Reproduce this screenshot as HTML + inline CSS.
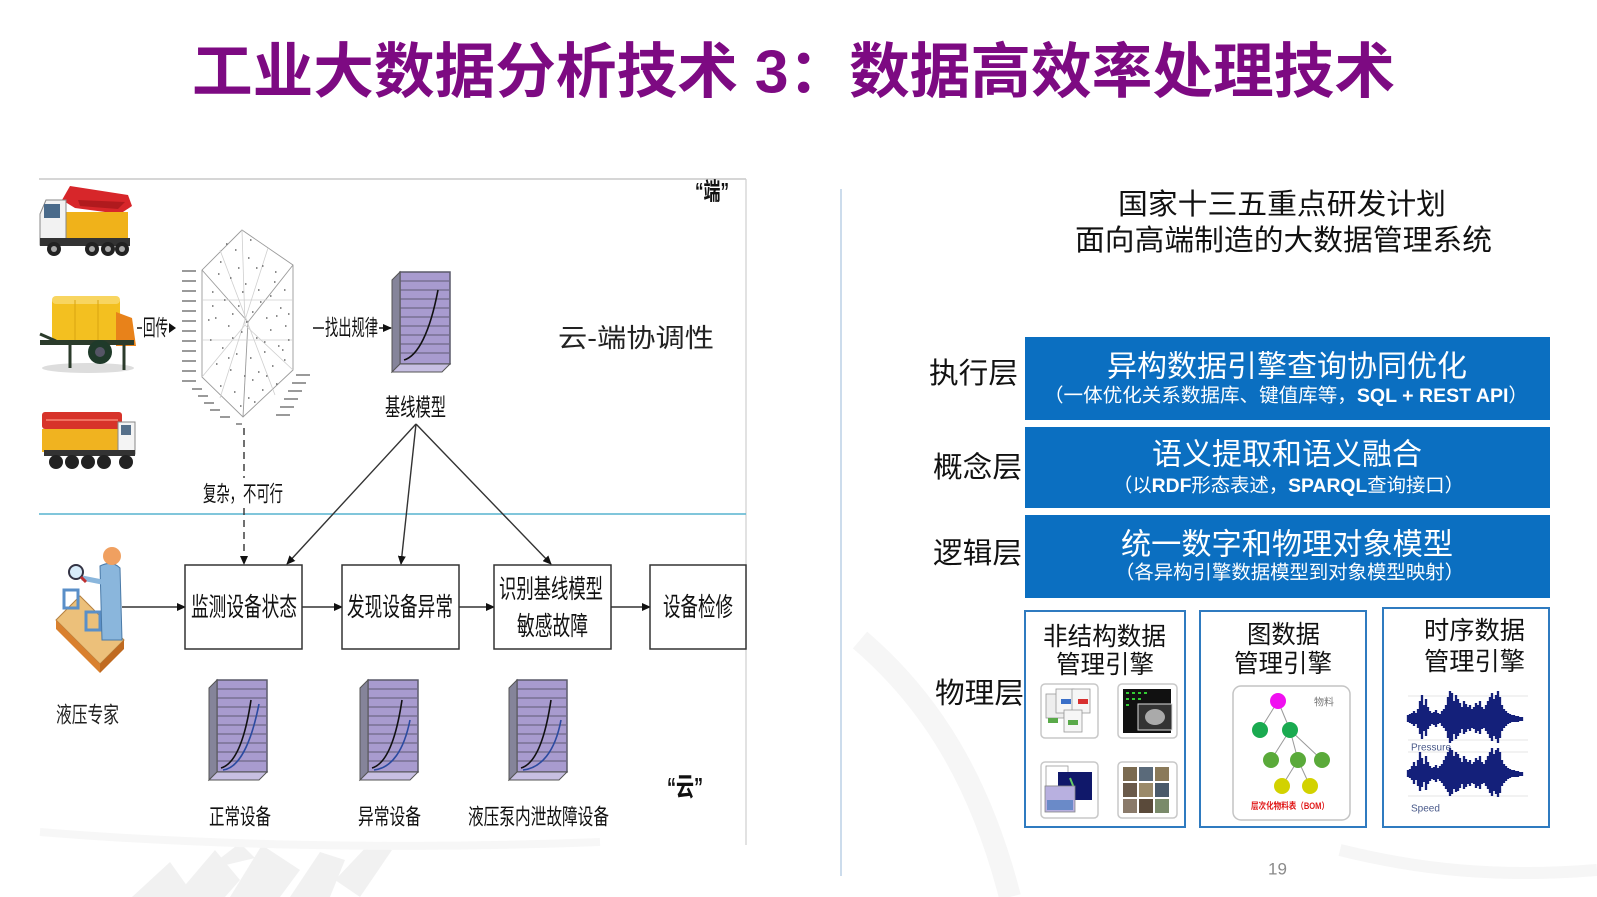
<!DOCTYPE html>
<html><head><meta charset="utf-8">
<style>
html,body{margin:0;padding:0;background:#fff;}
svg{display:block;}
text{font-family:"Liberation Sans","Noto Sans CJK SC",sans-serif;}
</style></head><body>
<svg width="1597" height="897" viewBox="0 0 1597 897" xmlns="http://www.w3.org/2000/svg">
<defs>
<marker id="ah" markerWidth="9" markerHeight="8" refX="8" refY="4" orient="auto" markerUnits="userSpaceOnUse"><path d="M0,0 L9,4 L0,8 z" fill="#111"/></marker>
</defs>

<!-- faint background -->
<g fill="#e8e8e8" opacity="0.6">
<polygon points="132,897 170,862 195,897"/>
<polygon points="175,897 215,850 240,880 225,897"/>
<polygon points="230,897 262,845 300,870 280,897"/>
<polygon points="290,897 320,852 345,860 330,897"/>
<polygon points="335,880 370,843 392,850 360,897"/>
<polygon points="205,870 240,843 255,858"/>
</g>
<path d="M860,640 C930,700 980,780 1010,897" stroke="#f6f6f6" stroke-width="22" fill="none"/>
<path d="M1340,850 C1420,870 1500,878 1597,870" stroke="#f6f6f6" stroke-width="12" fill="none"/>
<path d="M40,832 C200,845 400,850 600,842" stroke="#f7f7f7" stroke-width="8" fill="none"/>

<!-- title -->
<text x="192" y="72" font-size="60" font-weight="bold" fill="#7D0A82" dominant-baseline="central" textLength="1203" lengthAdjust="spacingAndGlyphs">工业大数据分析技术 3：数据高效率处理技术</text>

<!-- left panel frame -->
<line x1="39" y1="179" x2="746" y2="179" stroke="#bdbdbd" stroke-width="1.3"/>
<line x1="746" y1="179" x2="746" y2="845" stroke="#cfcfcf" stroke-width="1.2"/>
<line x1="39" y1="514" x2="746" y2="514" stroke="#56b4cf" stroke-width="1.6"/>

<text x="695" y="192" font-size="24" font-weight="bold" fill="#111" dominant-baseline="central" textLength="34" lengthAdjust="spacingAndGlyphs">“端”</text>
<text x="558" y="338" font-size="26" fill="#222" dominant-baseline="central" textLength="156" lengthAdjust="spacingAndGlyphs">云-端协调性</text>

<!-- truck 1 -->
<g>
<polygon points="62,200 70,186 128,195 132,206 120,214 75,208" fill="#d7262a"/>
<polygon points="78,200 125,202 118,209 80,206" fill="#b01a1e"/>
<rect x="64" y="212" width="64" height="30" fill="#f0b21a"/>
<polygon points="40,214 46,200 66,200 66,245 40,245" fill="#f2f2f2" stroke="#888" stroke-width="1"/>
<rect x="44" y="204" width="16" height="14" fill="#4a6a8a"/>
<rect x="40" y="238" width="90" height="8" fill="#333"/>
<circle cx="54" cy="249" r="7" fill="#222"/><circle cx="54" cy="249" r="3" fill="#aaa"/>
<circle cx="92" cy="249" r="7" fill="#222"/><circle cx="92" cy="249" r="3" fill="#aaa"/>
<circle cx="108" cy="249" r="7" fill="#222"/><circle cx="108" cy="249" r="3" fill="#aaa"/>
<circle cx="122" cy="249" r="7" fill="#222"/><circle cx="122" cy="249" r="3" fill="#aaa"/>
</g>
<!-- truck 2 -->
<g>
<ellipse cx="88" cy="368" rx="46" ry="5" fill="#ddd"/>
<rect x="52" y="296" width="68" height="46" rx="6" fill="#f3c020"/>
<rect x="52" y="296" width="68" height="8" rx="4" fill="#f8d560"/>
<line x1="75" y1="300" x2="75" y2="340" stroke="#d9a410" stroke-width="1"/>
<line x1="98" y1="300" x2="98" y2="340" stroke="#d9a410" stroke-width="1"/>
<polygon points="116,312 132,318 136,346 116,346" fill="#e8821a"/>
<rect x="40" y="340" width="94" height="5" fill="#2b3b2b"/>
<line x1="40" y1="334" x2="56" y2="341" stroke="#2b3b2b" stroke-width="3"/>
<circle cx="100" cy="352" r="12" fill="#1f3a2a"/><circle cx="100" cy="352" r="5" fill="#556"/>
<line x1="70" y1="345" x2="70" y2="368" stroke="#2b3b2b" stroke-width="3"/>
<line x1="124" y1="345" x2="124" y2="370" stroke="#2b3b2b" stroke-width="3"/>
</g>
<!-- truck 3 -->
<g>
<rect x="42" y="412" width="80" height="17" rx="3" fill="#d7332a"/>
<line x1="46" y1="420" x2="118" y2="420" stroke="#f07060" stroke-width="2"/>
<rect x="42" y="429" width="80" height="23" fill="#f0b320"/>
<rect x="118" y="422" width="17" height="32" fill="#f4f4f4" stroke="#888" stroke-width="1"/>
<rect x="121" y="425" width="10" height="10" fill="#56708a"/>
<rect x="44" y="450" width="91" height="6" fill="#333"/>
<circle cx="56" cy="462" r="7" fill="#222"/><circle cx="72" cy="462" r="7" fill="#222"/>
<circle cx="88" cy="462" r="7" fill="#222"/><circle cx="104" cy="462" r="7" fill="#222"/>
<circle cx="126" cy="462" r="7" fill="#222"/>
</g>

<!-- 回传 -->
<line x1="137" y1="328" x2="142" y2="328" stroke="#111" stroke-width="1.5"/>
<text x="143" y="328" font-size="22" fill="#111" dominant-baseline="central" textLength="25" lengthAdjust="spacingAndGlyphs">回传</text>
<polygon points="169,323 176,328 169,333" fill="#111"/>

<!-- scatter cube -->
<g stroke="#9a9a9a" stroke-width="0.9" fill="none">
<polygon points="242,230 293,265 293,370 243,417 202,377 202,270"/>
<line x1="248" y1="322" x2="202" y2="270"/>
<line x1="248" y1="322" x2="293" y2="265"/>
<line x1="248" y1="322" x2="243" y2="417"/>
</g>
<g stroke="#cfcfcf" stroke-width="0.8" fill="none">
<line x1="242" y1="230" x2="245" y2="325"/>
<line x1="202" y1="377" x2="245" y2="325"/>
<line x1="293" y1="370" x2="245" y2="325"/>
<line x1="202" y1="300" x2="293" y2="300"/>
<line x1="202" y1="340" x2="293" y2="340"/>
<line x1="220" y1="250" x2="275" y2="395"/>
<line x1="268" y1="248" x2="220" y2="398"/>
</g>
<path stroke="#666" stroke-width="1.6" d="M220 262h1.5M235 250h1.5M248 258h1.5M262 266h1.5M275 272h1.5M230 278h1.5M245 284h1.5M258 290h1.5M270 296h1.5M284 290h1.5M212 292h1.5M224 300h1.5M238 306h1.5M252 312h1.5M266 318h1.5M280 308h1.5M215 318h1.5M228 326h1.5M241 332h1.5M256 338h1.5M270 330h1.5M285 326h1.5M210 340h1.5M222 348h1.5M236 354h1.5M250 358h1.5M264 352h1.5M278 346h1.5M288 340h1.5M216 364h1.5M230 370h1.5M244 376h1.5M258 372h1.5M272 366h1.5M284 360h1.5M220 386h1.5M234 392h1.5M248 398h1.5M262 390h1.5M276 384h1.5M240 406h1.5M254 402h1.5M226 244h1.5M250 240h1.5M212 306h1.5M282 350h1.5M246 322h1.5M232 338h1.5M260 302h1.5M274 282h1.5M218 274h1.5M288 314h1.5M238 268h1.5M264 342h1.5M252 380h1.5M228 358h1.5M266 376h1.5M208 320h1.5M242 292h1.5M256 268h1.5M232 314h1.5M276 316h1.5"/>
<g fill="#9a9a9a">
<rect x="182" y="270" width="14" height="2"/><rect x="182" y="280" width="14" height="2"/><rect x="182" y="290" width="14" height="2"/>
<rect x="182" y="300" width="14" height="2"/><rect x="182" y="310" width="14" height="2"/><rect x="182" y="320" width="14" height="2"/>
<rect x="182" y="330" width="14" height="2"/><rect x="182" y="340" width="14" height="2"/><rect x="182" y="350" width="14" height="2"/>
<rect x="182" y="360" width="14" height="2"/><rect x="182" y="370" width="14" height="2"/><rect x="182" y="380" width="14" height="2"/>
<rect x="192" y="388" width="10" height="2"/><rect x="198" y="395" width="10" height="2"/><rect x="204" y="402" width="10" height="2"/>
<rect x="210" y="409" width="10" height="2"/><rect x="220" y="416" width="10" height="2"/><rect x="236" y="423" width="6" height="2"/>
<rect x="296" y="374" width="14" height="2"/><rect x="292" y="382" width="14" height="2"/><rect x="288" y="390" width="14" height="2"/>
<rect x="284" y="398" width="14" height="2"/><rect x="280" y="406" width="14" height="2"/><rect x="276" y="414" width="14" height="2"/>
</g>

<!-- 找出规律 -->
<line x1="313" y1="328" x2="324" y2="328" stroke="#111" stroke-width="1.5"/>
<text x="325" y="328" font-size="22" fill="#111" dominant-baseline="central" textLength="53" lengthAdjust="spacingAndGlyphs">找出规律</text>
<line x1="379" y1="328" x2="391" y2="328" stroke="#111" stroke-width="1.5" marker-end="url(#ah)"/>

<!-- baseline model icon -->
<g transform="translate(392,272)">
<rect x="8" y="0" width="50" height="92" fill="#a89bcf" stroke="#5a5a6a" stroke-width="1.5"/>
<g stroke="#6e6888" stroke-width="1.2"><line x1="8" y1="9" x2="58" y2="9"/><line x1="8" y1="18" x2="58" y2="18"/><line x1="8" y1="27" x2="58" y2="27"/><line x1="8" y1="36" x2="58" y2="36"/><line x1="8" y1="45" x2="58" y2="45"/><line x1="8" y1="54" x2="58" y2="54"/><line x1="8" y1="63" x2="58" y2="63"/><line x1="8" y1="72" x2="58" y2="72"/><line x1="8" y1="81" x2="58" y2="81"/></g>
<polygon points="0,8 8,0 8,92 0,100" fill="#85849a" stroke="#555" stroke-width="1"/>
<polygon points="0,100 8,92 58,92 50,100" fill="#c7bfe2" stroke="#555" stroke-width="1"/>
<path d="M12,88 C26,84 38,60 46,18" stroke="#111" fill="none" stroke-width="1.6"/>
</g>
<text x="385" y="408" font-size="24" fill="#111" dominant-baseline="central" textLength="61" lengthAdjust="spacingAndGlyphs">基线模型</text>

<!-- connectors from baseline model -->
<g stroke="#333" stroke-width="1.4">
<line x1="416" y1="424" x2="287" y2="564" marker-end="url(#ah)"/>
<line x1="416" y1="424" x2="401" y2="564" marker-end="url(#ah)"/>
<line x1="416" y1="424" x2="551" y2="564" marker-end="url(#ah)"/>
</g>
<!-- dashed -->
<line x1="244" y1="428" x2="244" y2="478" stroke="#333" stroke-width="1.4" stroke-dasharray="7,5"/>
<line x1="244" y1="508" x2="244" y2="564" stroke="#333" stroke-width="1.4" stroke-dasharray="7,5" marker-end="url(#ah)"/>
<text x="203" y="494" font-size="22" fill="#111" dominant-baseline="central" textLength="80" lengthAdjust="spacingAndGlyphs">复杂，不可行</text>

<!-- expert icon -->
<g>
<polygon points="56,620 80,596 124,640 100,664" fill="#ecc07a" stroke="#b58040" stroke-width="1"/>
<polygon points="56,620 100,664 100,673 56,629" fill="#d9802e"/>
<polygon points="100,664 124,640 124,649 100,673" fill="#c06a20"/>
<rect x="64" y="590" width="14" height="18" fill="none" stroke="#5a8fc8" stroke-width="3"/>
<rect x="86" y="612" width="14" height="18" fill="none" stroke="#5a8fc8" stroke-width="3"/>
<path d="M100,566 Q112,560 120,568 L122,640 L102,640 Z" fill="#8ab6dc" stroke="#4a7aa8" stroke-width="1"/>
<circle cx="112" cy="556" r="9" fill="#f0a060"/>
<line x1="102" y1="582" x2="82" y2="578" stroke="#8ab6dc" stroke-width="5"/>
<circle cx="76" cy="572" r="7" fill="#d8ecfa" stroke="#334" stroke-width="2"/>
<line x1="81" y1="577" x2="86" y2="582" stroke="#c03030" stroke-width="3"/>
</g>
<text x="56" y="715" font-size="22" fill="#222" dominant-baseline="central" textLength="63" lengthAdjust="spacingAndGlyphs">液压专家</text>

<!-- horizontal flow -->
<g stroke="#333" stroke-width="1.5">
<line x1="122" y1="607" x2="185" y2="607" marker-end="url(#ah)"/>
<line x1="302" y1="607" x2="342" y2="607" marker-end="url(#ah)"/>
<line x1="459" y1="607" x2="494" y2="607" marker-end="url(#ah)"/>
<line x1="611" y1="607" x2="650" y2="607" marker-end="url(#ah)"/>
</g>
<g fill="#fff" stroke="#333" stroke-width="1.5">
<rect x="185" y="565" width="117" height="84"/>
<rect x="342" y="565" width="117" height="84"/>
<rect x="494" y="565" width="117" height="84"/>
<rect x="650" y="565" width="96" height="84"/>
</g>
<g font-size="26" fill="#111">
<text x="191" y="607" dominant-baseline="central" textLength="106" lengthAdjust="spacingAndGlyphs">监测设备状态</text>
<text x="347" y="607" dominant-baseline="central" textLength="106" lengthAdjust="spacingAndGlyphs">发现设备异常</text>
<text x="499" y="589" dominant-baseline="central" textLength="104" lengthAdjust="spacingAndGlyphs">识别基线模型</text>
<text x="517" y="626" dominant-baseline="central" textLength="71" lengthAdjust="spacingAndGlyphs">敏感故障</text>
<text x="663" y="607" dominant-baseline="central" textLength="70" lengthAdjust="spacingAndGlyphs">设备检修</text>
</g>

<!-- bottom model icons -->
<g transform="translate(209,680)">
<rect x="8" y="0" width="50" height="92" fill="#a89bcf" stroke="#5a5a6a" stroke-width="1.5"/>
<g stroke="#6e6888" stroke-width="1.2"><line x1="8" y1="9" x2="58" y2="9"/><line x1="8" y1="18" x2="58" y2="18"/><line x1="8" y1="27" x2="58" y2="27"/><line x1="8" y1="36" x2="58" y2="36"/><line x1="8" y1="45" x2="58" y2="45"/><line x1="8" y1="54" x2="58" y2="54"/><line x1="8" y1="63" x2="58" y2="63"/><line x1="8" y1="72" x2="58" y2="72"/><line x1="8" y1="81" x2="58" y2="81"/></g>
<polygon points="0,8 8,0 8,92 0,100" fill="#85849a" stroke="#555" stroke-width="1"/>
<polygon points="0,100 8,92 58,92 50,100" fill="#c7bfe2" stroke="#555" stroke-width="1"/>
<path d="M12,88 C26,84 36,60 42,20" stroke="#111" fill="none" stroke-width="1.6"/>
<path d="M14,90 C30,88 42,64 50,24" stroke="#2b4aa0" fill="none" stroke-width="1.6"/>
</g>
<g transform="translate(360,680)">
<rect x="8" y="0" width="50" height="92" fill="#a89bcf" stroke="#5a5a6a" stroke-width="1.5"/>
<g stroke="#6e6888" stroke-width="1.2"><line x1="8" y1="9" x2="58" y2="9"/><line x1="8" y1="18" x2="58" y2="18"/><line x1="8" y1="27" x2="58" y2="27"/><line x1="8" y1="36" x2="58" y2="36"/><line x1="8" y1="45" x2="58" y2="45"/><line x1="8" y1="54" x2="58" y2="54"/><line x1="8" y1="63" x2="58" y2="63"/><line x1="8" y1="72" x2="58" y2="72"/><line x1="8" y1="81" x2="58" y2="81"/></g>
<polygon points="0,8 8,0 8,92 0,100" fill="#85849a" stroke="#555" stroke-width="1"/>
<polygon points="0,100 8,92 58,92 50,100" fill="#c7bfe2" stroke="#555" stroke-width="1"/>
<path d="M12,88 C26,84 36,60 42,20" stroke="#111" fill="none" stroke-width="1.6"/>
<path d="M14,90 C32,88 44,70 50,40" stroke="#2b4aa0" fill="none" stroke-width="1.6"/>
</g>
<g transform="translate(509,680)">
<rect x="8" y="0" width="50" height="92" fill="#a89bcf" stroke="#5a5a6a" stroke-width="1.5"/>
<g stroke="#6e6888" stroke-width="1.2"><line x1="8" y1="9" x2="58" y2="9"/><line x1="8" y1="18" x2="58" y2="18"/><line x1="8" y1="27" x2="58" y2="27"/><line x1="8" y1="36" x2="58" y2="36"/><line x1="8" y1="45" x2="58" y2="45"/><line x1="8" y1="54" x2="58" y2="54"/><line x1="8" y1="63" x2="58" y2="63"/><line x1="8" y1="72" x2="58" y2="72"/><line x1="8" y1="81" x2="58" y2="81"/></g>
<polygon points="0,8 8,0 8,92 0,100" fill="#85849a" stroke="#555" stroke-width="1"/>
<polygon points="0,100 8,92 58,92 50,100" fill="#c7bfe2" stroke="#555" stroke-width="1"/>
<path d="M12,88 C26,84 36,60 42,20" stroke="#111" fill="none" stroke-width="1.6"/>
<path d="M14,90 C32,88 46,72 52,40" stroke="#2b4aa0" fill="none" stroke-width="1.6"/>
</g>
<g font-size="22" fill="#111">
<text x="209" y="817" dominant-baseline="central" textLength="62" lengthAdjust="spacingAndGlyphs">正常设备</text>
<text x="358" y="817" dominant-baseline="central" textLength="63" lengthAdjust="spacingAndGlyphs">异常设备</text>
<text x="468" y="817" dominant-baseline="central" textLength="141" lengthAdjust="spacingAndGlyphs">液压泵内泄故障设备</text>
</g>
<text x="667" y="787" font-size="26" font-weight="bold" fill="#111" dominant-baseline="central" textLength="36" lengthAdjust="spacingAndGlyphs">“云”</text>

<!-- separator -->
<line x1="841" y1="189" x2="841" y2="876" stroke="#bcd0e6" stroke-width="1.5"/>

<!-- right heading -->
<text x="1118" y="205" font-size="29" fill="#111" dominant-baseline="central" textLength="328" lengthAdjust="spacingAndGlyphs">国家十三五重点研发计划</text>
<text x="1075" y="241" font-size="29" fill="#111" dominant-baseline="central" textLength="417" lengthAdjust="spacingAndGlyphs">面向高端制造的大数据管理系统</text>

<!-- layer labels -->
<g font-size="29" fill="#111">
<text x="929" y="374" dominant-baseline="central" textLength="89" lengthAdjust="spacingAndGlyphs">执行层</text>
<text x="933" y="468" dominant-baseline="central" textLength="89" lengthAdjust="spacingAndGlyphs">概念层</text>
<text x="933" y="554" dominant-baseline="central" textLength="89" lengthAdjust="spacingAndGlyphs">逻辑层</text>
<text x="935" y="694" dominant-baseline="central" textLength="89" lengthAdjust="spacingAndGlyphs">物理层</text>
</g>

<!-- blue boxes -->
<g fill="#0b6fc1">
<rect x="1025" y="337" width="525" height="83"/>
<rect x="1025" y="427" width="525" height="81"/>
<rect x="1025" y="515" width="525" height="83"/>
</g>
<g fill="#fff">
<text x="1107" y="367" font-size="30" dominant-baseline="central" textLength="360" lengthAdjust="spacingAndGlyphs">异构数据引擎查询协同优化</text>
<text x="1044" y="396" font-size="19" dominant-baseline="central" textLength="484" lengthAdjust="spacingAndGlyphs">（一体优化关系数据库、键值库等，<tspan font-weight="bold">SQL + REST API</tspan>）</text>
<text x="1152" y="455" font-size="30" dominant-baseline="central" textLength="270" lengthAdjust="spacingAndGlyphs">语义提取和语义融合</text>
<text x="1113" y="486" font-size="19" dominant-baseline="central" textLength="351" lengthAdjust="spacingAndGlyphs">（以<tspan font-weight="bold">RDF</tspan>形态表述，<tspan font-weight="bold">SPARQL</tspan>查询接口）</text>
<text x="1121" y="545" font-size="30" dominant-baseline="central" textLength="332" lengthAdjust="spacingAndGlyphs">统一数字和物理对象模型</text>
<text x="1115" y="573" font-size="19" dominant-baseline="central" textLength="349" lengthAdjust="spacingAndGlyphs">（各异构引擎数据模型到对象模型映射）</text>
</g>

<!-- physical boxes -->
<g fill="#fff" stroke="#2f7bc0" stroke-width="2">
<rect x="1025" y="611" width="160" height="216"/>
<rect x="1200" y="611" width="166" height="216"/>
<rect x="1383" y="608" width="166" height="219"/>
</g>
<g stroke="#2f7bc0" stroke-width="2"><line x1="1025" y1="827" x2="1185" y2="827"/><line x1="1200" y1="827" x2="1366" y2="827"/><line x1="1383" y1="827" x2="1549" y2="827"/></g>
<g font-size="25" fill="#111">
<text x="1043" y="637" dominant-baseline="central" textLength="123" lengthAdjust="spacingAndGlyphs">非结构数据</text>
<text x="1056" y="665" dominant-baseline="central" textLength="98" lengthAdjust="spacingAndGlyphs">管理引擎</text>
<text x="1247" y="635" dominant-baseline="central" textLength="73" lengthAdjust="spacingAndGlyphs">图数据</text>
<text x="1234" y="664" dominant-baseline="central" textLength="98" lengthAdjust="spacingAndGlyphs">管理引擎</text>
<text x="1424" y="631" dominant-baseline="central" textLength="101" lengthAdjust="spacingAndGlyphs">时序数据</text>
<text x="1424" y="662" dominant-baseline="central" textLength="101" lengthAdjust="spacingAndGlyphs">管理引擎</text>
</g>

<!-- box A thumbnails -->
<g fill="#fff" stroke="#c8c8c8" stroke-width="1.5">
<rect x="1041" y="684" width="57" height="54" rx="4"/>
<rect x="1118" y="684" width="59" height="54" rx="4"/>
<rect x="1041" y="762" width="57" height="56" rx="4"/>
<rect x="1118" y="762" width="59" height="56" rx="4"/>
</g>
<g>
<rect x="1046" y="694" width="18" height="24" fill="#eee" stroke="#999" stroke-width="0.8"/>
<rect x="1056" y="689" width="18" height="24" fill="#f6f6f6" stroke="#999" stroke-width="0.8"/>
<rect x="1072" y="689" width="18" height="24" fill="#f6f6f6" stroke="#999" stroke-width="0.8"/>
<rect x="1064" y="710" width="18" height="22" fill="#f6f6f6" stroke="#999" stroke-width="0.8"/>
<rect x="1061" y="699" width="10" height="5" fill="#3a6fc8"/>
<rect x="1078" y="699" width="10" height="5" fill="#d83030"/>
<rect x="1048" y="718" width="10" height="5" fill="#5aaa4a"/>
<rect x="1068" y="720" width="10" height="5" fill="#5aaa4a"/>
<rect x="1123" y="689" width="48" height="44" fill="#111"/>
<g fill="#3c3"><rect x="1126" y="692" width="3" height="2"/><rect x="1132" y="692" width="3" height="2"/><rect x="1138" y="692" width="3" height="2"/><rect x="1144" y="692" width="3" height="2"/><rect x="1126" y="698" width="3" height="2"/><rect x="1132" y="698" width="3" height="2"/><rect x="1138" y="698" width="3" height="2"/><rect x="1126" y="704" width="3" height="2"/></g>
<rect x="1138" y="704" width="34" height="26" fill="#333" stroke="#ddd" stroke-width="1"/>
<ellipse cx="1155" cy="717" rx="10" ry="8" fill="#aaa"/>
<rect x="1046" y="766" width="22" height="20" fill="#fff" stroke="#999" stroke-width="0.8"/>
<rect x="1058" y="772" width="34" height="28" fill="#10186a"/>
<path d="M1070,778 l4,10 l-3,8" stroke="#6c6" stroke-width="2" fill="none"/>
<rect x="1045" y="786" width="30" height="26" fill="#b8b0e0" stroke="#888" stroke-width="0.8"/>
<rect x="1047" y="800" width="26" height="10" fill="#6a8ac8"/>
<g fill="#7a6a50">
<rect x="1123" y="767" width="14" height="14"/><rect x="1139" y="767" width="14" height="14" fill="#5a6a7a"/><rect x="1155" y="767" width="14" height="14" fill="#8a7a5a"/>
<rect x="1123" y="783" width="14" height="14" fill="#6a5a4a"/><rect x="1139" y="783" width="14" height="14" fill="#9a8a6a"/><rect x="1155" y="783" width="14" height="14" fill="#4a5a6a"/>
<rect x="1123" y="799" width="14" height="14" fill="#8a7a6a"/><rect x="1139" y="799" width="14" height="14" fill="#5a4a3a"/><rect x="1155" y="799" width="14" height="14" fill="#7a8a6a"/>
</g>
</g>

<!-- tree card -->
<rect x="1233" y="686" width="117" height="134" rx="8" fill="#fff" stroke="#c4c4c4" stroke-width="1.5"/>
<g stroke="#999" stroke-width="1">
<line x1="1278" y1="701" x2="1260" y2="730"/><line x1="1278" y1="701" x2="1290" y2="730"/>
<line x1="1290" y1="730" x2="1271" y2="760"/><line x1="1290" y1="730" x2="1298" y2="760"/><line x1="1290" y1="730" x2="1322" y2="760"/>
<line x1="1298" y1="760" x2="1282" y2="786"/><line x1="1298" y1="760" x2="1310" y2="786"/>
</g>
<circle cx="1278" cy="701" r="8" fill="#f010f0"/>
<circle cx="1260" cy="730" r="8" fill="#1aaa50"/><circle cx="1290" cy="730" r="8" fill="#1aaa50"/>
<circle cx="1271" cy="760" r="8" fill="#5aaa3a"/><circle cx="1298" cy="760" r="8" fill="#5aaa3a"/><circle cx="1322" cy="760" r="8" fill="#5aaa3a"/>
<circle cx="1282" cy="786" r="8" fill="#d2d200"/><circle cx="1310" cy="786" r="8" fill="#d2d200"/>
<text x="1314" y="703" font-size="10" fill="#777" dominant-baseline="central">物料</text>
<text x="1251" y="806" font-size="9" font-weight="bold" fill="#e01818" dominant-baseline="central" textLength="78" lengthAdjust="spacingAndGlyphs">层次化物料表（BOM）</text>

<!-- waveforms -->
<g stroke="#e4e4e4" stroke-width="1"><line x1="1408" y1="696" x2="1528" y2="696"/><line x1="1408" y1="740" x2="1528" y2="740"/><line x1="1408" y1="752" x2="1528" y2="752"/><line x1="1408" y1="796" x2="1528" y2="796"/></g>
<path stroke="#14207a" stroke-width="2.3" fill="none" d="M1408 715V722M1410 714V723M1412 713V724M1414 711V726M1416 713V724M1418 709V728M1420 701V734M1422 695V739M1424 705V731M1426 699V736M1428 707V729M1430 711V726M1432 713V724M1434 712V725M1436 710V727M1438 713V724M1440 714V723M1442 711V726M1444 709V728M1446 705V731M1448 697V738M1450 691V743M1452 693V741M1454 701V734M1456 695V739M1458 699V736M1460 703V733M1462 707V729M1464 701V734M1466 704V732M1468 707V729M1470 705V731M1472 709V728M1474 707V729M1476 703V733M1478 705V731M1480 701V734M1482 707V729M1484 709V728M1486 705V731M1488 701V734M1490 697V738M1492 693V741M1494 699V736M1496 695V739M1498 691V743M1500 697V738M1502 705V731M1504 709V728M1506 711V726M1508 713V724M1510 714V723M1512 715V722M1514 715V722M1516 716V722M1518 716V722M1520 717V721M1522 717V721"/>
<path stroke="#14207a" stroke-width="2.3" fill="none" d="M1408 770V777M1410 769V778M1412 766V780M1414 762V784M1416 766V780M1418 760V786M1420 752V791M1422 758V787M1424 764V782M1426 756V790M1428 762V784M1430 766V781M1432 768V779M1434 767V780M1436 765V782M1438 768V779M1440 766V781M1442 764V783M1444 760V786M1446 756V789M1448 752V792M1450 748V796M1452 750V794M1454 756V789M1456 752V792M1458 754V791M1460 758V788M1462 762V784M1464 756V789M1466 759V787M1468 762V784M1470 760V786M1472 764V783M1474 762V784M1476 758V788M1478 760V786M1480 756V789M1482 762V784M1484 764V783M1486 760V786M1488 756V789M1490 752V793M1492 748V796M1494 754V791M1496 750V794M1498 748V797M1500 752V793M1502 760V786M1504 764V783M1506 766V781M1508 768V779M1510 769V778M1512 770V777M1514 770V777M1516 771V777M1518 771V777M1520 772V776M1522 772V776"/>
<text x="1411" y="748" font-size="10" fill="#4a5a8a" dominant-baseline="central">Pressure</text>
<text x="1411" y="809" font-size="10" fill="#4a5a8a" dominant-baseline="central">Speed</text>

<!-- page number -->
<text x="1268" y="869" font-size="17" fill="#8a8a8a" dominant-baseline="central">19</text>
</svg>
</body></html>
